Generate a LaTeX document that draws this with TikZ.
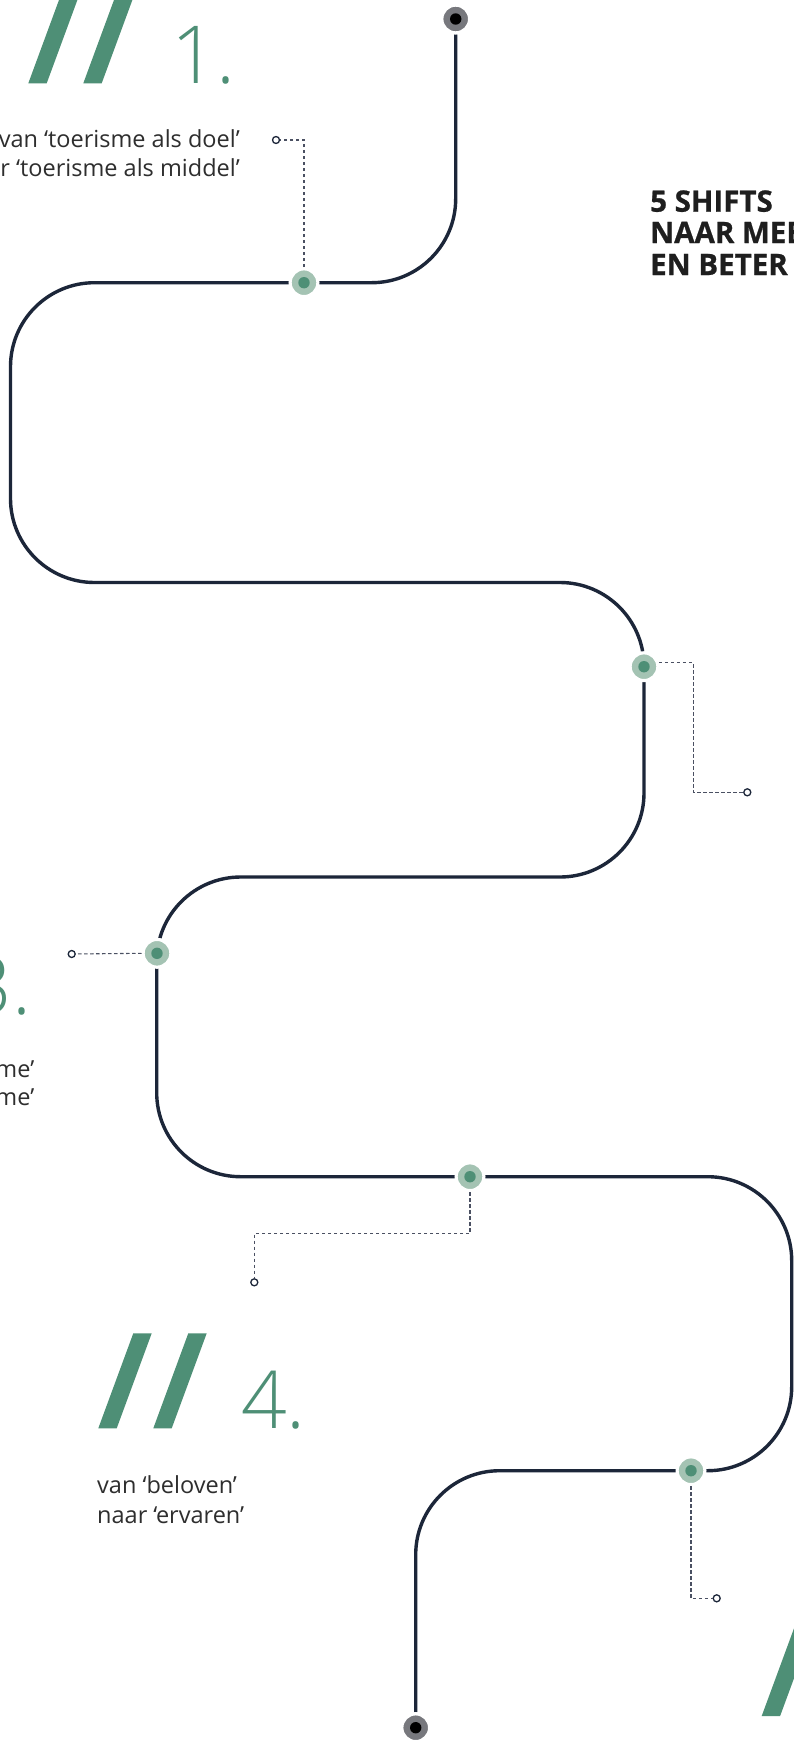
\documentclass[tikz,border=0pt]{standalone}
\usepackage{fontspec}
\setmainfont{Open Sans}
\newfontfamily\lightfont{Open Sans Light}
\newfontfamily\headfont[BoldFeatures={FakeBold=0.8}]{Open Sans}
\usetikzlibrary{calc}
\definecolor{navy}{HTML}{1C2639}
\definecolor{accent}{HTML}{4E8F76}
\definecolor{ringgreen}{HTML}{A4C3B3}
\definecolor{dotgrey}{HTML}{77787D}
\definecolor{connc}{HTML}{4A5062}
\definecolor{bodytext}{HTML}{2E2E2E}
\definecolor{headtext}{HTML}{1E1E1E}
\newcommand\slashmark[2]{\fill[accent] (#1,#2) -- ++(18.4,0) -- ++(35,-95) -- ++(-18.4,0) -- cycle;}
\begin{document}
\begin{tikzpicture}[x=1pt,y=-1pt,
  track/.style={draw=navy, line width=3.4pt, rounded corners=84pt},
  gdot/.style={circle, minimum size=27.8pt, inner sep=0pt, fill=ringgreen, draw=white, line width=3.2pt,
    path picture={\fill[accent] (path picture bounding box.center) circle[radius=5.7pt];}},
  enddot/.style={circle, minimum size=27.8pt, inner sep=0pt, fill=dotgrey, draw=white, line width=3.2pt,
    path picture={\fill[black] (path picture bounding box.center) circle[radius=5.7pt];}},
  pin/.style={circle, minimum size=7pt, inner sep=0pt, draw=navy, line width=1.3pt, fill=white},
  conn/.style={draw=connc, line width=1.1pt, dash pattern=on 3.5pt off 2.5pt},
  num/.style={font=\lightfont\fontsize{80}{80}\selectfont, text=accent, inner sep=0pt},
  body/.style={font=\fontsize{23.5}{29.5}\selectfont, text=bodytext, inner sep=0pt},
  head/.style={font=\headfont\bfseries\fontsize{29.5}{31.7}\selectfont, text=headtext, inner sep=0pt}]
\useasboundingbox (0,0) rectangle (794,1742);
\fill[white] (0,0) rectangle (794,1742);

% nodes (positions)
\coordinate (d0c) at (455.7,19);
\coordinate (d6c) at (415.7,1727.7);

% track
\draw[track] (455.7,34.5) -- (455.7,282.7) -- (10.5,282.7) -- (10.5,582.5) -- (644,582.5)
  -- (644,877) -- (156.7,877) -- (156.7,1176.7) -- (791.7,1176.7) -- (791.7,1470.7)
  -- (415.7,1470.7) -- (415.7,1712.2);

% dots
\node[enddot] (d0) at (d0c) {};
\node[enddot] (d6) at (d6c) {};
\node[gdot] (d1) at (304,282.7) {};
\node[gdot] (d2) at (644,666.7) {};
\node[gdot] (d3) at (157,953.3) {};
\node[gdot] (d4) at (470,1176.7) {};
\node[gdot] (d5) at (691,1470.7) {};

% pins
\node[pin] (p1) at (276,140) {};
\node[pin] (p2) at (747.3,792.3) {};
\node[pin] (p3) at (71.7,954) {};
\node[pin] (p4) at (254.3,1282.3) {};
\node[pin] (p5) at (716.7,1598.3) {};
\coordinate (b2) at (693.3,792.3);
\coordinate (b4) at (254.3,1233.3);

% connectors
\draw[conn] (d1.north) |- (p1);
\draw[conn] (d2.15) -| (b2) -- (p2);
\draw[conn] (d3.west) -- (p3);
\draw[conn] (d4.south) |- (b4) -- (p4);
\draw[conn] (d5.south) |- (p5);

% slashes
\slashmark{28.3}{83.3}
\slashmark{83.3}{83.3}
\slashmark{98.3}{1428.3}
\slashmark{153.3}{1428.3}
\slashmark{761.7}{1716}
\slashmark{816.7}{1716}

% numbers
\node[num, anchor=base west] (n1) at (171,83.3) {1.};
\node[num, anchor=base west] (n3) at (-33.4,1014) {3.};
\node[num, anchor=base west] (n4) at (241,1428.3) {4.};

% texts
\node[body, anchor=base east] (t1a) at (240,147.7) {van ‘toerisme als doel’};
\node[body, anchor=base east] (t1b) at (240,176) {naar ‘toerisme als middel’};
\node[body, anchor=base east] (t3a) at (34.5,1077) {me’};
\node[body, anchor=base east] (t3b) at (34.5,1105.7) {me’};
\node[body, anchor=base west] (t4a) at (97,1493.3) {van ‘beloven’};
\node[body, anchor=base west] (t4b) at (97,1523.3) {naar ‘ervaren’};

% heading
\node[head, anchor=base west] (h1) at (650,211.7) {5 SHIFTS};
\node[head, anchor=base west] (h2) at (650,243) {NAAR MEER};
\node[head, anchor=base west] (h3) at (650,275) {EN BETER};
\end{tikzpicture}
\end{document}
